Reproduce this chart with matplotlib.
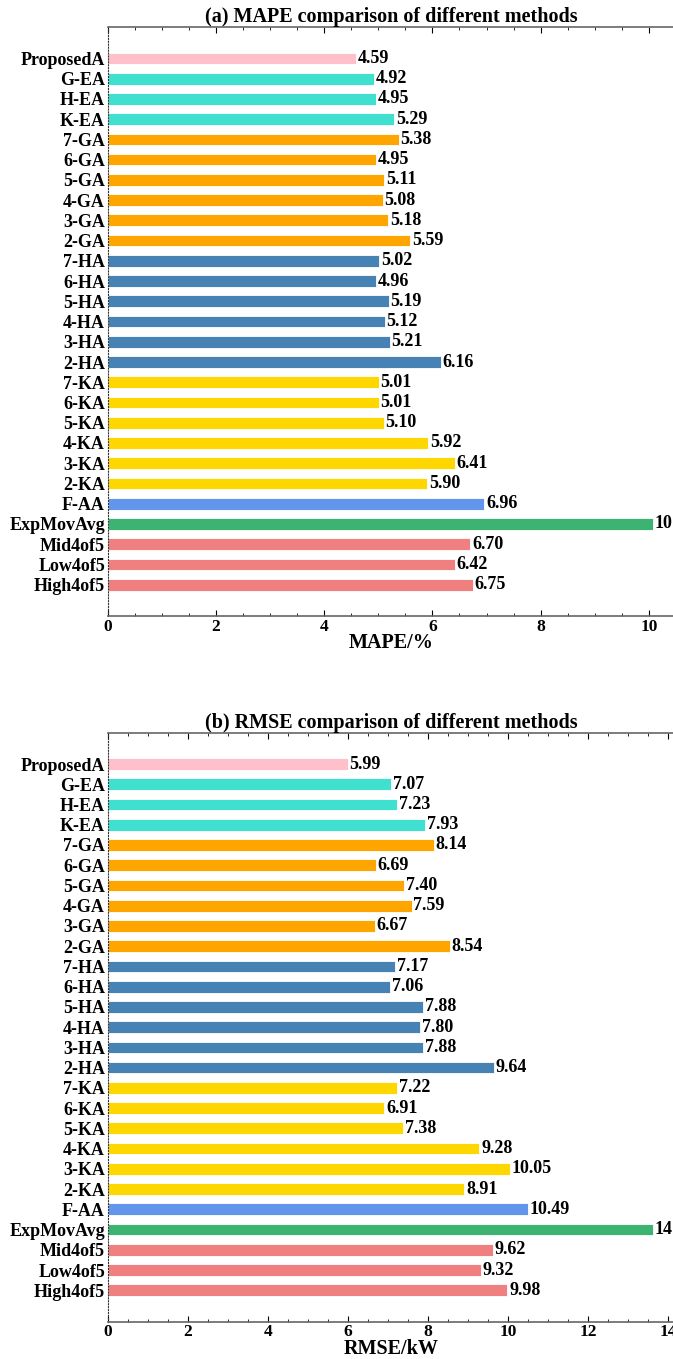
import numpy as np
import matplotlib.pyplot as plt
from matplotlib.ticker import MultipleLocator

plt.rcParams['font.family'] = ['Liberation Serif', 'DejaVu Serif']
plt.rcParams['font.weight'] = 'bold'

# Методи (зверху вниз)
methods = ['ProposedA', 'G-EA', 'H-EA', 'K-EA',
           '7-GA', '6-GA', '5-GA', '4-GA', '3-GA', '2-GA',
           '7-HA', '6-HA', '5-HA', '4-HA', '3-HA', '2-HA',
           '7-KA', '6-KA', '5-KA', '4-KA', '3-KA', '2-KA',
           'F-AA', 'ExpMovAvg', 'Mid4of5', 'Low4of5', 'High4of5']

mape = [4.59, 4.92, 4.95, 5.29,
        5.38, 4.95, 5.11, 5.08, 5.18, 5.59,
        5.02, 4.96, 5.19, 5.12, 5.21, 6.16,
        5.01, 5.01, 5.10, 5.92, 6.41, 5.90,
        6.96, 10.07, 6.70, 6.42, 6.75]

rmse = [5.99, 7.07, 7.23, 7.93,
        8.14, 6.69, 7.40, 7.59, 6.67, 8.54,
        7.17, 7.06, 7.88, 7.80, 7.88, 9.64,
        7.22, 6.91, 7.38, 9.28, 10.05, 8.91,
        10.49, 13.62, 9.62, 9.32, 9.98]

# Кольори груп
colors = (['pink'] + ['turquoise'] * 3 + ['orange'] * 6 + ['steelblue'] * 6
          + ['gold'] * 6 + ['cornflowerblue', 'mediumseagreen']
          + ['lightcoral'] * 3)

# Значення, що показуються цілим числом
rounded = ['ExpMovAvg']

fig = plt.figure(figsize=(6.73, 13.59), dpi=100)
ax1 = fig.add_axes([0.160, 0.5467, 0.842, 0.4334])
ax2 = fig.add_axes([0.160, 0.0275, 0.842, 0.4334])


def draw(ax, values, title, xlabel, xmax):
    y = np.arange(len(methods))[::-1]
    ax.barh(y, values, height=0.58, color=colors, edgecolor='white', linewidth=0.6)
    for yi, v, name in zip(y, values, methods):
        txt = f"{v:.0f}" if name in rounded else f"{v:.2f}"
        ax.text(v + xmax * 0.003, yi, txt, va='center', ha='left',
                fontsize=13, fontweight='bold', clip_on=False)
    ax.set_yticks(y)
    ax.set_yticklabels(methods, fontsize=13, fontweight='bold')
    ax.set_ylim(-1.55, len(methods) + 0.55)
    ax.set_xlim(0, xmax)
    ax.xaxis.set_major_locator(MultipleLocator(2))
    ax.xaxis.set_minor_locator(MultipleLocator(0.5))
    ax.tick_params(axis='x', which='both', direction='in', top=True,
                   labelsize=12.5, pad=2)
    ax.tick_params(axis='x', which='major', length=4)
    ax.tick_params(axis='x', which='minor', length=2)
    ax.tick_params(axis='y', length=0, pad=2)
    for lbl in ax.get_xticklabels():
        lbl.set_fontweight('bold')
    ax.set_title(title, fontsize=14.5, fontweight='bold', pad=3)
    ax.set_xlabel(xlabel, fontsize=14.5, fontweight='bold', labelpad=-1)
    for s in ['top', 'bottom']:
        ax.spines[s].set_color('#666666')
        ax.spines[s].set_linewidth(1.2)
    ax.spines['left'].set_linestyle(':')
    ax.spines['left'].set_color('#333333')
    ax.spines['right'].set_visible(False)


draw(ax1, mape, '(a) MAPE comparison of different methods', 'MAPE/%', 10.47)
draw(ax2, rmse, '(b) RMSE comparison of different methods', 'RMSE/kW', 14.15)

fig.savefig('out.png', dpi=100)
